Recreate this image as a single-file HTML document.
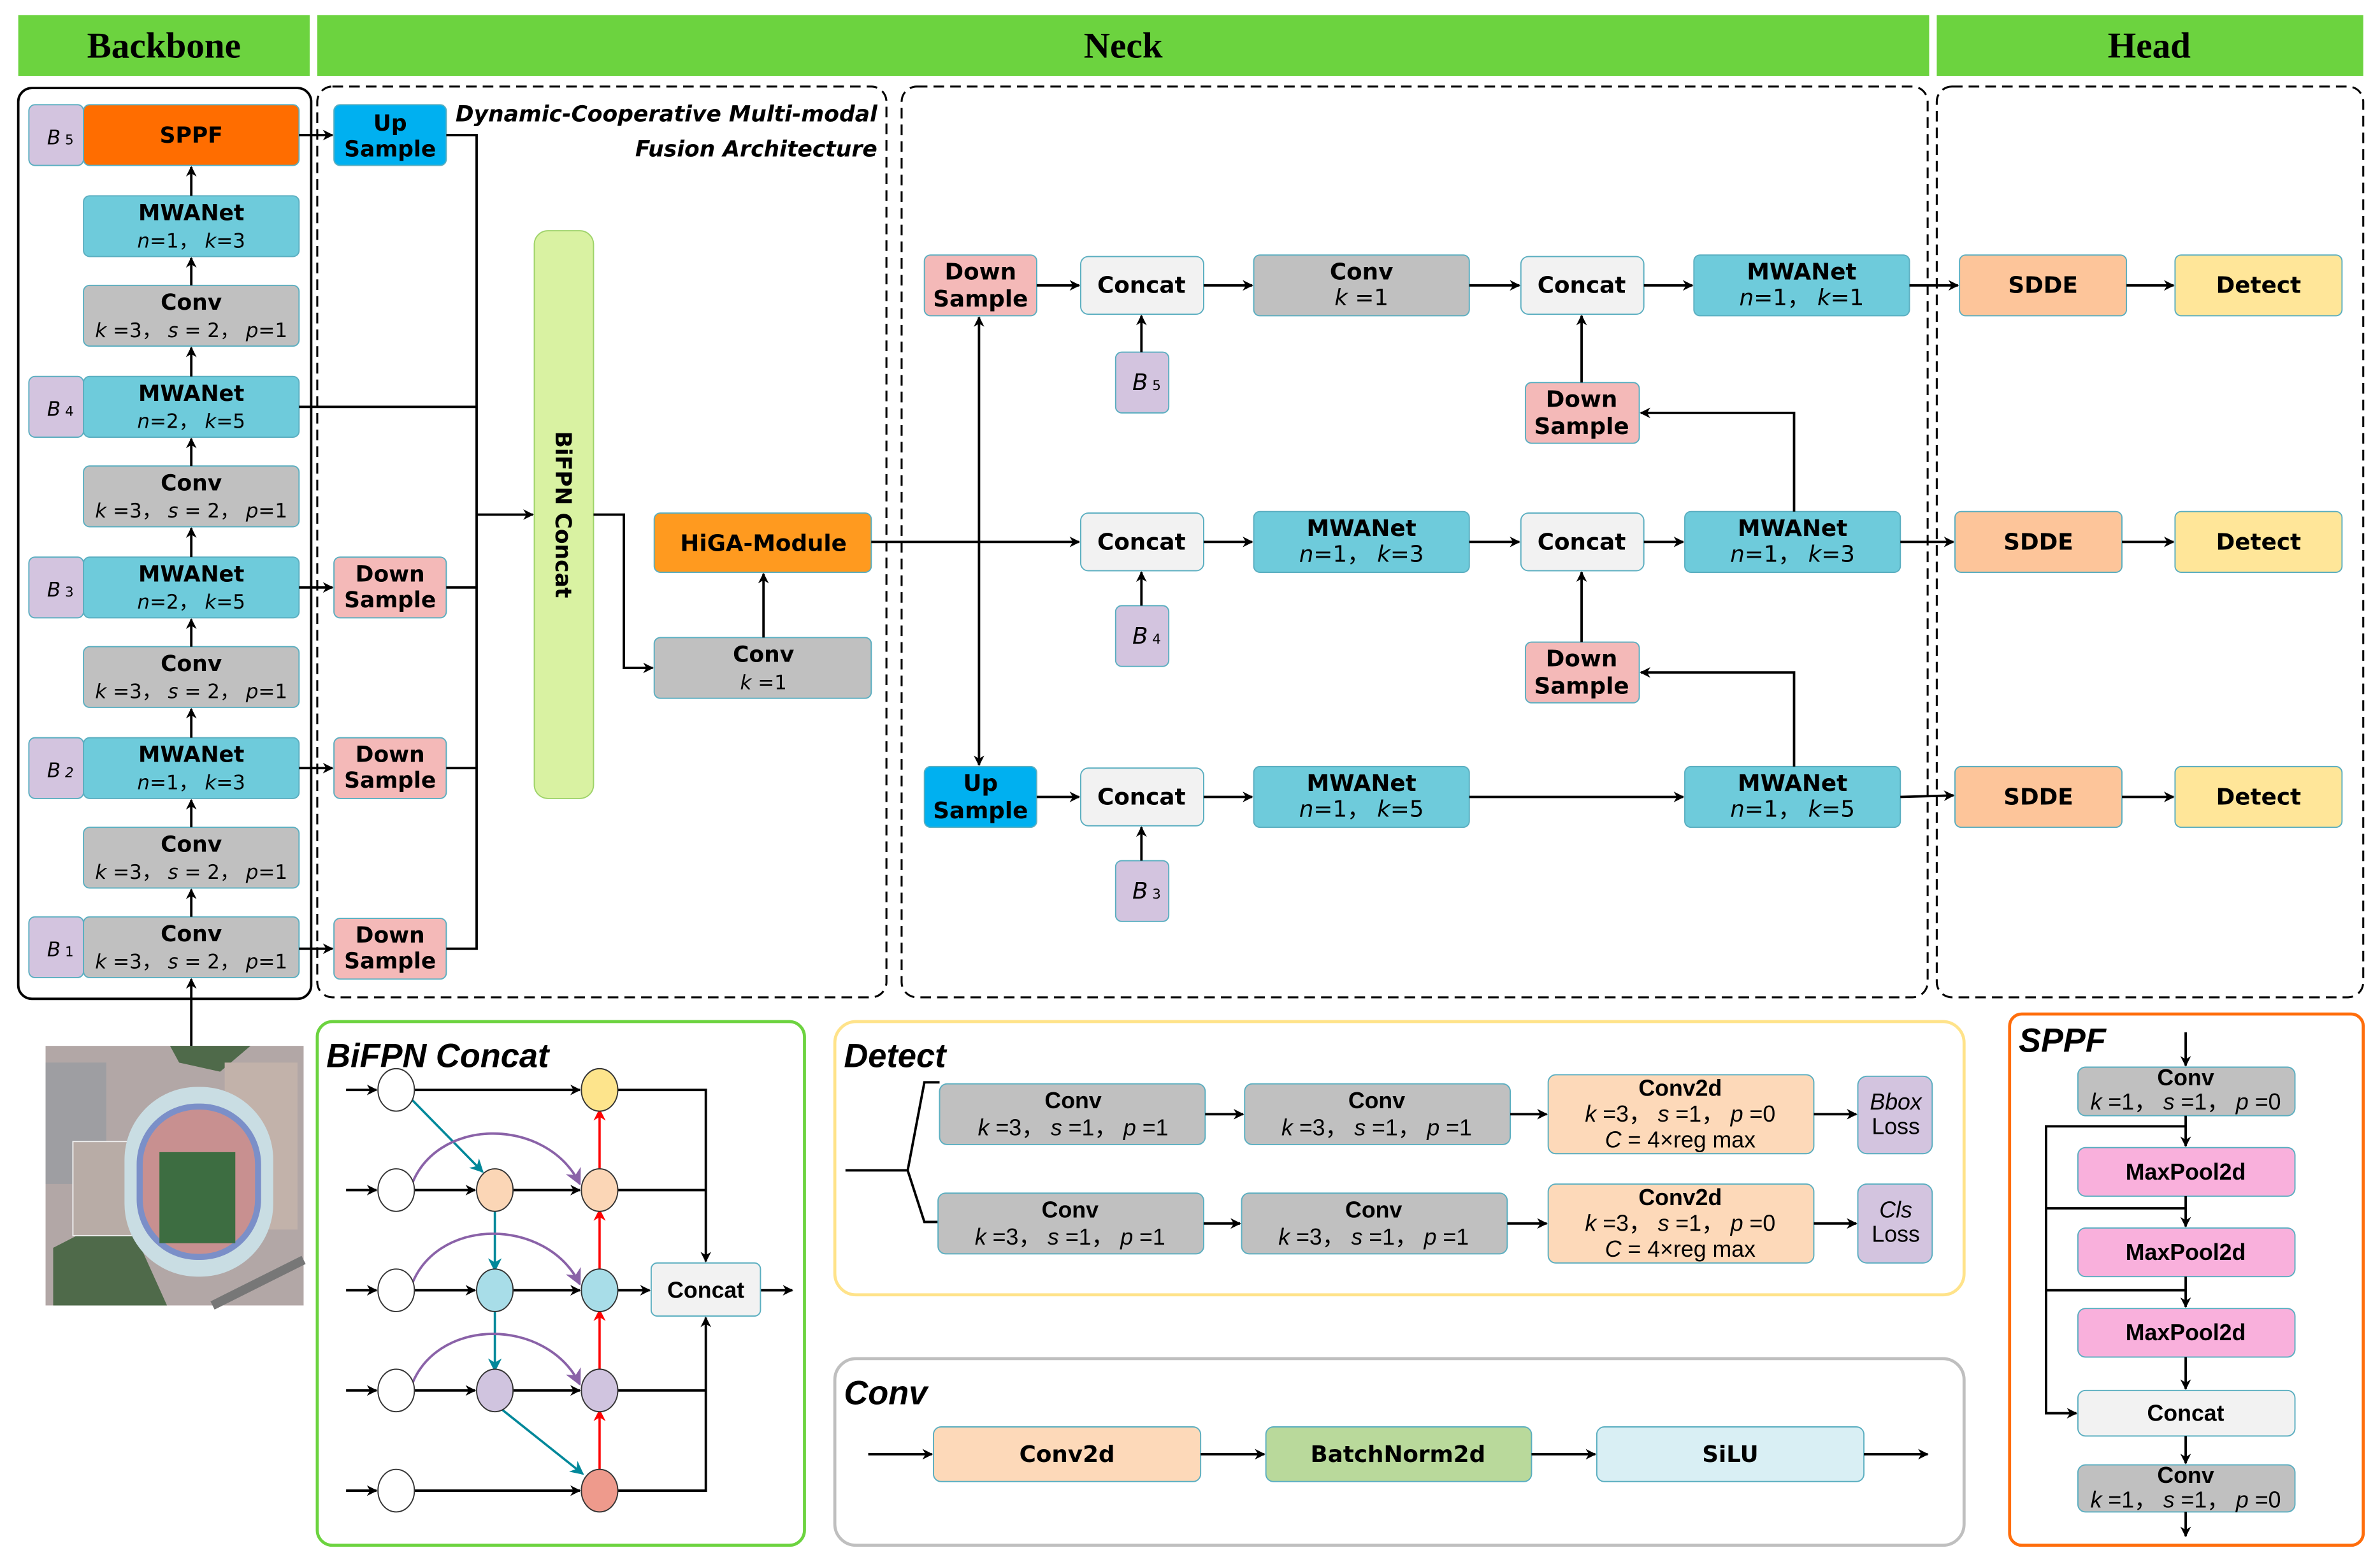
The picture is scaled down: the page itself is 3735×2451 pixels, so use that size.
<!DOCTYPE html>
<html><head><meta charset="utf-8">
<style>
html,body{margin:0;padding:0;background:#fff;}
svg{display:block;}
text{font-family:"DejaVu Sans","Liberation Sans",sans-serif;}
.b{font-weight:bold;font-size:14.5px;fill:#000;}
.p{font-size:13px;fill:#000;}
.n{font-family:"Liberation Sans",sans-serif;font-weight:bold;font-size:15px;}
.np{font-family:"Liberation Sans",sans-serif;font-size:15px;}
.i{font-style:italic;}
.h{font-family:"Liberation Serif",serif;font-weight:bold;font-size:24px;}
.t{font-family:"Liberation Sans",sans-serif;font-weight:bold;font-style:italic;font-size:22px;}
.ln{stroke:#000;stroke-width:1.6;fill:none;}
</style></head><body>
<svg width="3735" height="2451" viewBox="0 0 1568 1029" xmlns="http://www.w3.org/2000/svg">
<defs>
<marker id="a" viewBox="0 0 10 10" refX="9" refY="5" markerWidth="7" markerHeight="7" orient="auto-start-reverse" markerUnits="userSpaceOnUse"><path d="M0,0 L10,5 L0,10 L3,5z" fill="#000"/></marker>
<marker id="ar" viewBox="0 0 10 10" refX="9" refY="5" markerWidth="8" markerHeight="8" orient="auto" markerUnits="userSpaceOnUse"><path d="M0,0 L10,5 L0,10 L3,5z" fill="#f00"/></marker>
<marker id="at" viewBox="0 0 10 10" refX="9" refY="5" markerWidth="9" markerHeight="9" orient="auto" markerUnits="userSpaceOnUse"><path d="M0,0 L10,5 L0,10 L3,5z" fill="#00889a"/></marker>
<marker id="ap" viewBox="0 0 10 10" refX="9" refY="5" markerWidth="11" markerHeight="11" orient="auto" markerUnits="userSpaceOnUse"><path d="M0,0 L10,5 L0,10 L3,5z" fill="#8a62a8"/></marker>
</defs>
<rect width="1568" height="1029" fill="#fff"/>
<rect x="12" y="10" width="192" height="40" fill="#6cd33f"/>
<rect x="209" y="10" width="1062" height="40" fill="#6cd33f"/>
<rect x="1276" y="10" width="281" height="40" fill="#6cd33f"/>
<text class="h" x="108" y="38" text-anchor="middle">Backbone</text>
<text class="h" x="740" y="38" text-anchor="middle">Neck</text>
<text class="h" x="1416" y="38" text-anchor="middle">Head</text>

<rect x="12" y="58" width="193" height="600" rx="9" fill="none" stroke="#000" stroke-width="1.6"/>
<rect x="209" y="57" width="375" height="600" rx="10" fill="none" stroke="#000" stroke-width="1.3" stroke-dasharray="7,4"/>
<rect x="594" y="57" width="676" height="600" rx="10" fill="none" stroke="#000" stroke-width="1.3" stroke-dasharray="7,4"/>
<rect x="1276" y="57" width="281" height="600" rx="10" fill="none" stroke="#000" stroke-width="1.3" stroke-dasharray="7,4"/>

<g stroke="#5aaec0" stroke-width="0.8">
<rect x="19" y="69" width="36" height="40" rx="4" fill="#d3c4df"/>
<rect x="19" y="248" width="36" height="40" rx="4" fill="#d3c4df"/>
<rect x="19" y="367" width="36" height="40" rx="4" fill="#d3c4df"/>
<rect x="19" y="486" width="36" height="40" rx="4" fill="#d3c4df"/>
<rect x="19" y="604" width="36" height="40" rx="4" fill="#d3c4df"/>
<rect x="55" y="69" width="142" height="40" rx="4" fill="#ff6d00"/>
<rect x="55" y="129" width="142" height="40" rx="4" fill="#6ecbdb"/>
<rect x="55" y="188" width="142" height="40" rx="4" fill="#c0c0c0"/>
<rect x="55" y="248" width="142" height="40" rx="4" fill="#6ecbdb"/>
<rect x="55" y="307" width="142" height="40" rx="4" fill="#c0c0c0"/>
<rect x="55" y="367" width="142" height="40" rx="4" fill="#6ecbdb"/>
<rect x="55" y="426" width="142" height="40" rx="4" fill="#c0c0c0"/>
<rect x="55" y="486" width="142" height="40" rx="4" fill="#6ecbdb"/>
<rect x="55" y="545" width="142" height="40" rx="4" fill="#c0c0c0"/>
<rect x="55" y="604" width="142" height="40" rx="4" fill="#c0c0c0"/>
</g>
<g class="p i" font-size="14">
<text x="31" y="95">B<tspan font-size="9" font-style="normal"> 5</tspan></text>
<text x="31" y="274">B<tspan font-size="9" font-style="normal"> 4</tspan></text>
<text x="31" y="393">B<tspan font-size="9" font-style="normal"> 3</tspan></text>
<text x="31" y="512">B<tspan font-size="9"> 2</tspan></text>
<text x="31" y="630">B<tspan font-size="9" font-style="normal"> 1</tspan></text>
</g>
<g text-anchor="middle">
<text class="b" x="126" y="94">SPPF</text>
<text class="b" x="126" y="145">MWANet</text><text class="p" x="126" y="163"><tspan class="i">n</tspan>=1，  <tspan class="i">k</tspan>=3</text>
<text class="b" x="126" y="204">Conv</text><text class="p" x="126" y="222"><tspan class="i">k</tspan> =3， <tspan class="i">s</tspan> = 2， <tspan class="i">p</tspan>=1</text>
<text class="b" x="126" y="264">MWANet</text><text class="p" x="126" y="282"><tspan class="i">n</tspan>=2，  <tspan class="i">k</tspan>=5</text>
<text class="b" x="126" y="323">Conv</text><text class="p" x="126" y="341"><tspan class="i">k</tspan> =3， <tspan class="i">s</tspan> = 2， <tspan class="i">p</tspan>=1</text>
<text class="b" x="126" y="383">MWANet</text><text class="p" x="126" y="401"><tspan class="i">n</tspan>=2，  <tspan class="i">k</tspan>=5</text>
<text class="b" x="126" y="442">Conv</text><text class="p" x="126" y="460"><tspan class="i">k</tspan> =3， <tspan class="i">s</tspan> = 2， <tspan class="i">p</tspan>=1</text>
<text class="b" x="126" y="502">MWANet</text><text class="p" x="126" y="520"><tspan class="i">n</tspan>=1，  <tspan class="i">k</tspan>=3</text>
<text class="b" x="126" y="561">Conv</text><text class="p" x="126" y="579"><tspan class="i">k</tspan> =3， <tspan class="i">s</tspan> = 2， <tspan class="i">p</tspan>=1</text>
<text class="b" x="126" y="620">Conv</text><text class="p" x="126" y="638"><tspan class="i">k</tspan> =3， <tspan class="i">s</tspan> = 2， <tspan class="i">p</tspan>=1</text>
</g>
<g class="ln" marker-end="url(#a)">
<line x1="126" y1="129" x2="126" y2="110"/>
<line x1="126" y1="188" x2="126" y2="170"/>
<line x1="126" y1="248" x2="126" y2="229"/>
<line x1="126" y1="307" x2="126" y2="289"/>
<line x1="126" y1="367" x2="126" y2="348"/>
<line x1="126" y1="426" x2="126" y2="408"/>
<line x1="126" y1="486" x2="126" y2="467"/>
<line x1="126" y1="545" x2="126" y2="527"/>
<line x1="126" y1="604" x2="126" y2="586"/>
<line x1="126" y1="689" x2="126" y2="645"/>
<line x1="197" y1="89" x2="219" y2="89"/>
<line x1="197" y1="387" x2="219" y2="387"/>
<line x1="197" y1="506" x2="219" y2="506"/>
<line x1="197" y1="625" x2="219" y2="625"/>
</g>

<g stroke="#5aaec0" stroke-width="0.8">
<rect x="220" y="69" width="74" height="40" rx="4" fill="#00b0f0"/>
<rect x="220" y="367" width="74" height="40" rx="4" fill="#f4b9b8"/>
<rect x="220" y="486" width="74" height="40" rx="4" fill="#f4b9b8"/>
<rect x="220" y="605" width="74" height="40" rx="4" fill="#f4b9b8"/>
<rect x="352" y="152" width="39" height="374" rx="9" fill="#d9f2a2" stroke="#9fd36a"/>
<rect x="431" y="338" width="143" height="39" rx="4" fill="#ff9a1f"/>
<rect x="431" y="420" width="143" height="40" rx="4" fill="#c0c0c0"/>
</g>
<g text-anchor="middle" class="b">
<text x="257" y="86">Up</text><text x="257" y="103">Sample</text>
<text x="257" y="383">Down</text><text x="257" y="400">Sample</text>
<text x="257" y="502">Down</text><text x="257" y="519">Sample</text>
<text x="257" y="621">Down</text><text x="257" y="638">Sample</text>
<text x="503" y="363" font-size="15">HiGA-Module</text>
<text x="503" y="436">Conv</text>
</g>
<text class="p" x="503" y="454" text-anchor="middle"><tspan class="i">k</tspan> =1</text>
<text class="b" transform="translate(366,339) rotate(90)" text-anchor="middle">BiFPN Concat</text>
<text x="578" y="80" text-anchor="end" font-family="DejaVu Sans,sans-serif" font-weight="bold" font-style="italic" font-size="14.5">Dynamic-Cooperative Multi-modal</text>
<text x="578" y="103" text-anchor="end" font-family="DejaVu Sans,sans-serif" font-weight="bold" font-style="italic" font-size="14.5">Fusion Architecture</text>
<g class="ln">
<polyline points="294,89 314,89 314,625 294,625"/>
<line x1="197" y1="268" x2="314" y2="268"/>
<line x1="294" y1="387" x2="314" y2="387"/>
<line x1="294" y1="506" x2="314" y2="506"/>
<line x1="314" y1="339" x2="351" y2="339" marker-end="url(#a)"/>
<polyline points="391,339 411,339 411,440 430,440" marker-end="url(#a)"/>
<line x1="503" y1="420" x2="503" y2="378" marker-end="url(#a)"/>
<line x1="574" y1="357" x2="711" y2="357" marker-end="url(#a)"/>
<line x1="645" y1="209" x2="645" y2="504" marker-start="url(#a)" marker-end="url(#a)"/>
</g>

<g stroke="#5aaec0" stroke-width="0.8">
<rect x="609" y="168" width="74" height="40" rx="4" fill="#f4b9b8"/>
<rect x="609" y="505" width="74" height="40" rx="4" fill="#00b0f0"/>
<rect x="712" y="169" width="81" height="38" rx="5" fill="#f2f2f2"/>
<rect x="712" y="338" width="81" height="38" rx="5" fill="#f2f2f2"/>
<rect x="712" y="506" width="81" height="38" rx="5" fill="#f2f2f2"/>
<rect x="735" y="232" width="35" height="40" rx="4" fill="#d3c4df"/>
<rect x="735" y="399" width="35" height="40" rx="4" fill="#d3c4df"/>
<rect x="735" y="567" width="35" height="40" rx="4" fill="#d3c4df"/>
<rect x="826" y="168" width="142" height="40" rx="4" fill="#c0c0c0"/>
<rect x="826" y="337" width="142" height="40" rx="4" fill="#6ecbdb"/>
<rect x="826" y="505" width="142" height="40" rx="4" fill="#6ecbdb"/>
<rect x="1002" y="169" width="81" height="38" rx="5" fill="#f2f2f2"/>
<rect x="1002" y="338" width="81" height="38" rx="5" fill="#f2f2f2"/>
<rect x="1005" y="252" width="75" height="40" rx="4" fill="#f4b9b8"/>
<rect x="1005" y="423" width="75" height="40" rx="4" fill="#f4b9b8"/>
<rect x="1116" y="168" width="142" height="40" rx="4" fill="#6ecbdb"/>
<rect x="1110" y="337" width="142" height="40" rx="4" fill="#6ecbdb"/>
<rect x="1110" y="505" width="142" height="40" rx="4" fill="#6ecbdb"/>
<rect x="1291" y="168" width="110" height="40" rx="4" fill="#fdc59a"/>
<rect x="1288" y="337" width="110" height="40" rx="4" fill="#fdc59a"/>
<rect x="1288" y="505" width="110" height="40" rx="4" fill="#fdc59a"/>
<rect x="1433" y="168" width="110" height="40" rx="4" fill="#ffe699"/>
<rect x="1433" y="337" width="110" height="40" rx="4" fill="#ffe699"/>
<rect x="1433" y="505" width="110" height="40" rx="4" fill="#ffe699"/>
</g>
<g text-anchor="middle" class="n">
<text x="646" y="184">Down</text><text x="646" y="202">Sample</text>
<text x="646" y="521">Up</text><text x="646" y="539">Sample</text>
<text x="752" y="193">Concat</text><text x="752" y="362">Concat</text><text x="752" y="530">Concat</text>
<text x="1042" y="193">Concat</text><text x="1042" y="362">Concat</text>
<text x="1042" y="268">Down</text><text x="1042" y="286">Sample</text>
<text x="1042" y="439">Down</text><text x="1042" y="457">Sample</text>
<text x="897" y="184">Conv</text>
<text x="897" y="353">MWANet</text><text x="897" y="521">MWANet</text>
<text x="1187" y="184">MWANet</text><text x="1181" y="353">MWANet</text><text x="1181" y="521">MWANet</text>
<text x="1346" y="193">SDDE</text><text x="1343" y="362">SDDE</text><text x="1343" y="530">SDDE</text>
<text x="1488" y="193">Detect</text><text x="1488" y="362">Detect</text><text x="1488" y="530">Detect</text>
</g>
<g text-anchor="middle" class="np">
<text x="897" y="201"><tspan class="i">k</tspan> =1</text>
<text x="897" y="370"><tspan class="i">n</tspan>=1，  <tspan class="i">k</tspan>=3</text>
<text x="897" y="538"><tspan class="i">n</tspan>=1，  <tspan class="i">k</tspan>=5</text>
<text x="1187" y="201"><tspan class="i">n</tspan>=1，  <tspan class="i">k</tspan>=1</text>
<text x="1181" y="370"><tspan class="i">n</tspan>=1，  <tspan class="i">k</tspan>=3</text>
<text x="1181" y="538"><tspan class="i">n</tspan>=1，  <tspan class="i">k</tspan>=5</text>
</g>
<g class="np i">
<text x="746" y="257">B<tspan font-size="9" font-style="normal"> 5</tspan></text>
<text x="746" y="424">B<tspan font-size="9" font-style="normal"> 4</tspan></text>
<text x="746" y="592">B<tspan font-size="9" font-style="normal"> 3</tspan></text>
</g>
<g class="ln" marker-end="url(#a)">
<line x1="683" y1="188" x2="711" y2="188"/>
<line x1="683" y1="525" x2="711" y2="525"/>
<line x1="793" y1="188" x2="825" y2="188"/>
<line x1="793" y1="357" x2="825" y2="357"/>
<line x1="793" y1="525" x2="825" y2="525"/>
<line x1="752" y1="232" x2="752" y2="208"/>
<line x1="752" y1="399" x2="752" y2="377"/>
<line x1="752" y1="567" x2="752" y2="545"/>
<line x1="968" y1="188" x2="1001" y2="188"/>
<line x1="968" y1="357" x2="1001" y2="357"/>
<line x1="968" y1="525" x2="1109" y2="525"/>
<line x1="1083" y1="188" x2="1115" y2="188"/>
<line x1="1083" y1="357" x2="1109" y2="357"/>
<line x1="1042" y1="252" x2="1042" y2="208"/>
<line x1="1042" y1="423" x2="1042" y2="377"/>
<polyline points="1182,337 1182,272 1081,272"/>
<polyline points="1182,505 1182,443 1081,443"/>
<line x1="1258" y1="188" x2="1290" y2="188"/>
<line x1="1252" y1="357" x2="1287" y2="357"/>
<line x1="1252" y1="525" x2="1287" y2="524"/>
<line x1="1401" y1="188" x2="1432" y2="188"/>
<line x1="1398" y1="357" x2="1432" y2="357"/>
<line x1="1398" y1="525" x2="1432" y2="525"/>
</g>

<g>
<rect x="30" y="689" width="170" height="171" fill="#b2a7a6"/>
<rect x="30" y="700" width="40" height="80" fill="#9e9ea2"/>
<polygon points="35,860 35,822 82,798 110,860" fill="#4f6a4a"/>
<polygon points="112,689 165,689 145,706 118,700" fill="#4f6a4a"/>
<rect x="148" y="700" width="48" height="110" fill="#c2b2aa"/>
<rect x="48" y="752" width="45" height="62" fill="#b8aca6" stroke="#eee" stroke-width="0.8"/>
<rect x="82" y="716" width="98" height="125" rx="48" fill="#c9dde3"/>
<rect x="90" y="727" width="82" height="103" rx="40" fill="#7b8fc8"/>
<rect x="94" y="731" width="74" height="95" rx="36" fill="#c89090"/>
<rect x="105" y="759" width="50" height="60" fill="#3d6d41"/>
<line x1="140" y1="860" x2="200" y2="830" stroke="#777" stroke-width="6"/>
</g>

<rect x="209" y="673" width="321" height="345" rx="10" fill="none" stroke="#6cd33f" stroke-width="2"/>
<text class="t" x="215" y="703">BiFPN Concat</text>
<g class="ln" marker-end="url(#a)">
<line x1="228" y1="718" x2="248" y2="718"/><line x1="228" y1="784" x2="248" y2="784"/>
<line x1="228" y1="850" x2="248" y2="850"/><line x1="228" y1="916" x2="248" y2="916"/>
<line x1="228" y1="982" x2="248" y2="982"/>
<line x1="273" y1="718" x2="382" y2="718"/>
<line x1="273" y1="784" x2="313" y2="784"/><line x1="338" y1="784" x2="382" y2="784"/>
<line x1="273" y1="850" x2="313" y2="850"/><line x1="338" y1="850" x2="382" y2="850"/>
<line x1="273" y1="916" x2="313" y2="916"/><line x1="338" y1="916" x2="382" y2="916"/>
<line x1="273" y1="982" x2="382" y2="982"/>
<line x1="407" y1="850" x2="428" y2="850"/>
<line x1="501" y1="850" x2="522" y2="850"/>
<polyline points="407,718 465,718 465,831"/>
<polyline points="407,982 465,982 465,868"/>
</g>
<g class="ln">
<line x1="407" y1="784" x2="465" y2="784"/><line x1="407" y1="916" x2="465" y2="916"/>
</g>
<g stroke="#00889a" stroke-width="1.5" fill="none" marker-end="url(#at)">
<line x1="268" y1="721" x2="318" y2="772"/>
<line x1="326" y1="796" x2="326" y2="837"/>
<line x1="326" y1="862" x2="326" y2="903"/>
<line x1="330" y1="928" x2="384" y2="971"/>
</g>
<g stroke="#f00" stroke-width="1.5" fill="none" marker-end="url(#ar)">
<line x1="395" y1="970" x2="395" y2="929"/>
<line x1="395" y1="904" x2="395" y2="863"/>
<line x1="395" y1="838" x2="395" y2="797"/>
<line x1="395" y1="772" x2="395" y2="731"/>
</g>
<g stroke="#8a62a8" stroke-width="1.6" fill="none" marker-end="url(#ap)">
<path d="M270,784 C285,735 360,735 382,780"/>
<path d="M270,850 C285,801 360,801 382,846"/>
<path d="M270,916 C285,867 360,867 382,912"/>
</g>
<g stroke="#333" stroke-width="0.8">
<ellipse cx="261" cy="718" rx="12" ry="14" fill="#fff"/>
<ellipse cx="261" cy="784" rx="12" ry="14" fill="#fff"/>
<ellipse cx="261" cy="850" rx="12" ry="14" fill="#fff"/>
<ellipse cx="261" cy="916" rx="12" ry="14" fill="#fff"/>
<ellipse cx="261" cy="982" rx="12" ry="14" fill="#fff"/>
<ellipse cx="326" cy="784" rx="12" ry="14" fill="#fbd6b6"/>
<ellipse cx="326" cy="850" rx="12" ry="14" fill="#a8dde8"/>
<ellipse cx="326" cy="916" rx="12" ry="14" fill="#d0c4df"/>
<ellipse cx="395" cy="718" rx="12" ry="14" fill="#fde48c"/>
<ellipse cx="395" cy="784" rx="12" ry="14" fill="#fbd6b6"/>
<ellipse cx="395" cy="850" rx="12" ry="14" fill="#a8dde8"/>
<ellipse cx="395" cy="916" rx="12" ry="14" fill="#d0c4df"/>
<ellipse cx="395" cy="982" rx="12" ry="14" fill="#ee9a8c"/>
</g>
<rect x="429" y="832" width="72" height="35" rx="4" fill="#f2f2f2" stroke="#5aaec0" stroke-width="0.8"/>
<text class="n" x="465" y="855" text-anchor="middle">Concat</text>

<rect x="550" y="673" width="744" height="180" rx="14" fill="none" stroke="#ffe38a" stroke-width="2"/>
<text class="t" x="556" y="703">Detect</text>
<g class="ln"><polyline points="557,771 598,771"/><polyline points="619,713 609,713 598,771 609,805 618,805"/></g>
<g stroke="#5aaec0" stroke-width="0.8">
<rect x="619" y="714" width="175" height="40" rx="5" fill="#c0c0c0"/>
<rect x="820" y="714" width="175" height="40" rx="5" fill="#c0c0c0"/>
<rect x="1020" y="708" width="175" height="52" rx="5" fill="#fdd9b9"/>
<rect x="1224" y="709" width="49" height="51" rx="6" fill="#d3c4df"/>
<rect x="618" y="786" width="175" height="40" rx="5" fill="#c0c0c0"/>
<rect x="818" y="786" width="175" height="40" rx="5" fill="#c0c0c0"/>
<rect x="1020" y="780" width="175" height="52" rx="5" fill="#fdd9b9"/>
<rect x="1224" y="780" width="49" height="52" rx="6" fill="#d3c4df"/>
</g>
<g class="ln" marker-end="url(#a)">
<line x1="794" y1="734" x2="819" y2="734"/><line x1="995" y1="734" x2="1019" y2="734"/><line x1="1195" y1="734" x2="1223" y2="734"/>
<line x1="793" y1="806" x2="817" y2="806"/><line x1="993" y1="806" x2="1019" y2="806"/><line x1="1195" y1="806" x2="1223" y2="806"/>
</g>
<g text-anchor="middle">
<text class="n" x="707" y="730">Conv</text><text class="np" x="707" y="748"><tspan class="i">k</tspan> =3， <tspan class="i">s</tspan> =1， <tspan class="i">p</tspan> =1</text>
<text class="n" x="907" y="730">Conv</text><text class="np" x="907" y="748"><tspan class="i">k</tspan> =3， <tspan class="i">s</tspan> =1， <tspan class="i">p</tspan> =1</text>
<text class="n" x="705" y="802">Conv</text><text class="np" x="705" y="820"><tspan class="i">k</tspan> =3， <tspan class="i">s</tspan> =1， <tspan class="i">p</tspan> =1</text>
<text class="n" x="905" y="802">Conv</text><text class="np" x="905" y="820"><tspan class="i">k</tspan> =3， <tspan class="i">s</tspan> =1， <tspan class="i">p</tspan> =1</text>
<text class="n" x="1107" y="722">Conv2d</text><text class="np" x="1107" y="739"><tspan class="i">k</tspan> =3， <tspan class="i">s</tspan> =1， <tspan class="i">p</tspan> =0</text><text class="np" x="1107" y="756"><tspan class="i">C</tspan> = 4×reg max</text>
<text class="n" x="1107" y="794">Conv2d</text><text class="np" x="1107" y="811"><tspan class="i">k</tspan> =3， <tspan class="i">s</tspan> =1， <tspan class="i">p</tspan> =0</text><text class="np" x="1107" y="828"><tspan class="i">C</tspan> = 4×reg max</text>
<text class="np i" x="1249" y="731" font-size="13">Bbox</text><text class="np" x="1249" y="747" font-size="13">Loss</text>
<text class="np i" x="1249" y="802" font-size="13">Cls</text><text class="np" x="1249" y="818" font-size="13">Loss</text>
</g>

<rect x="550" y="895" width="744" height="123" rx="14" fill="none" stroke="#bfbfbf" stroke-width="2"/>
<text class="t" x="556" y="925">Conv</text>
<g stroke="#5aaec0" stroke-width="0.8">
<rect x="615" y="940" width="176" height="36" rx="5" fill="#fdd9b9"/>
<rect x="834" y="940" width="175" height="36" rx="5" fill="#b9d99b"/>
<rect x="1052" y="940" width="176" height="36" rx="5" fill="#d9eff4"/>
</g>
<g class="ln" marker-end="url(#a)">
<line x1="572" y1="958" x2="614" y2="958"/><line x1="791" y1="958" x2="833" y2="958"/>
<line x1="1009" y1="958" x2="1051" y2="958"/><line x1="1228" y1="958" x2="1270" y2="958"/>
</g>
<g text-anchor="middle" class="n">
<text x="703" y="963">Conv2d</text><text x="921" y="963">BatchNorm2d</text><text x="1140" y="963">SiLU</text>
</g>

<rect x="1324" y="668" width="233" height="350" rx="8" fill="none" stroke="#ff6d0b" stroke-width="2"/>
<text class="t" x="1330" y="693" font-size="17">SPPF</text>
<g stroke="#5aaec0" stroke-width="0.8">
<rect x="1369" y="703" width="143" height="32" rx="5" fill="#c0c0c0"/>
<rect x="1369" y="756" width="143" height="32" rx="5" fill="#f9b0dc"/>
<rect x="1369" y="809" width="143" height="32" rx="5" fill="#f9b0dc"/>
<rect x="1369" y="862" width="143" height="32" rx="5" fill="#f9b0dc"/>
<rect x="1369" y="916" width="143" height="30" rx="5" fill="#f2f2f2"/>
<rect x="1369" y="965" width="143" height="31" rx="5" fill="#c0c0c0"/>
</g>
<g class="ln" marker-end="url(#a)">
<line x1="1440" y1="680" x2="1440" y2="702"/>
<line x1="1440" y1="735" x2="1440" y2="755"/>
<line x1="1440" y1="788" x2="1440" y2="808"/>
<line x1="1440" y1="841" x2="1440" y2="861"/>
<line x1="1440" y1="894" x2="1440" y2="915"/>
<line x1="1440" y1="946" x2="1440" y2="964"/>
<line x1="1440" y1="996" x2="1440" y2="1012"/>
<polyline points="1440,742 1348,742 1348,931 1368,931"/>
</g>
<g class="ln"><line x1="1348" y1="796" x2="1440" y2="796"/><line x1="1348" y1="850" x2="1440" y2="850"/></g>
<g text-anchor="middle">
<text class="n" x="1440" y="715" font-size="14">Conv</text><text class="np" x="1440" y="731" font-size="14"><tspan class="i">k</tspan> =1， <tspan class="i">s</tspan> =1， <tspan class="i">p</tspan> =0</text>
<text class="n" x="1440" y="777">MaxPool2d</text>
<text class="n" x="1440" y="830">MaxPool2d</text>
<text class="n" x="1440" y="883">MaxPool2d</text>
<text class="n" x="1440" y="936">Concat</text>
<text class="n" x="1440" y="977" font-size="14">Conv</text><text class="np" x="1440" y="993" font-size="14"><tspan class="i">k</tspan> =1， <tspan class="i">s</tspan> =1， <tspan class="i">p</tspan> =0</text>
</g>
</svg>
</body></html>
